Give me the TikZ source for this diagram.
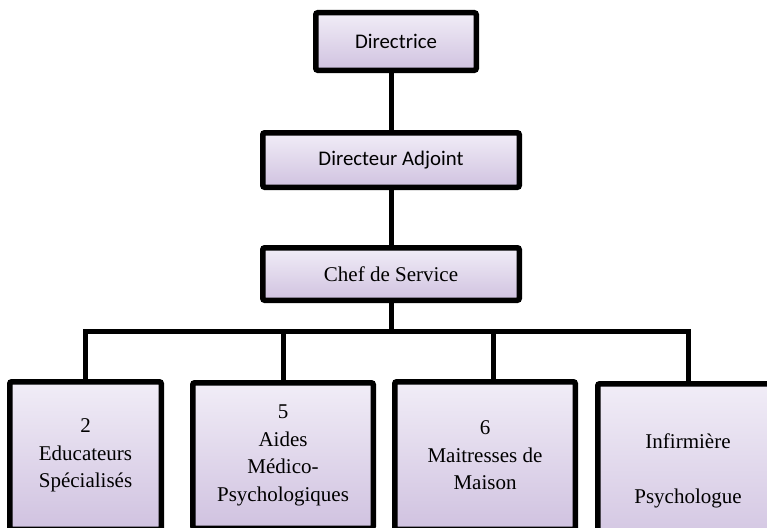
\documentclass[tikz,border=0pt]{standalone}
\usepackage{fontspec}
\setmainfont{Liberation Serif}
\newfontfamily\calfont{Carlito}
\usepackage{tikz}
\usetikzlibrary{positioning, shadows}

\definecolor{lilahaut}{HTML}{F1EDF7}
\definecolor{lilabas}{HTML}{D0C2E0}

\begin{document}
\begin{tikzpicture}[x=1pt, y=-1pt,
    box/.style={draw=black, line width=5.5pt, rounded corners=2pt,
        top color=lilahaut, bottom color=lilabas,
        drop shadow={shadow xshift=1.5pt, shadow yshift=-1.5pt, opacity=0.25},
        align=center, inner sep=2pt},
    haut/.style={box, font=\calfont\fontsize{20.8}{25}\selectfont},
    bas/.style={box, font=\fontsize{21}{27.5}\selectfont},
    lien/.style={line width=5pt}]
            \useasboundingbox (0,0) rectangle (767,527);
            % Direction
            \node[haut, minimum width=160.5pt, minimum height=57.5pt] (dir) at (396,41.5) {Directrice};
            \node[haut, minimum width=256.5pt, minimum height=54.5pt] (adj) at (391,160) {Directeur Adjoint};
            \node[bas, minimum width=256.5pt, minimum height=52.5pt] (chef) at (391,274) {Chef de Service};
            
            % Equipe
            \node[bas, minimum width=151.5pt, minimum height=147.5pt] (educ) at (85.5,455.5) {2\\Educateurs\\Spécialisés};
            \node[bas, minimum width=180.5pt, minimum height=145.5pt] (amp) at (283,455.5) {5\\Aides\\Médico-\\Psychologiques};
            \node[bas, minimum width=180.5pt, minimum height=147.5pt] (mait) at (485,455.5) {6\\Maitresses de\\Maison};
            \node[bas, minimum width=180.5pt, minimum height=173.5pt] (infi) at (688,470.5) {Infirmière\\\\Psychologue};
            
            % Liaisons
            \coordinate (barre) at (391,331.5);
            \draw[lien] (dir.south -| adj.north) -- (adj.north);
            \draw[lien] (adj.south) -- (chef.north);
            \draw[lien] (chef.south) -- (barre);
            \draw[lien] (barre) -| (educ.north);
            \draw[lien] (barre) -| (amp.north);
            \draw[lien] (barre) -| ([xshift=8pt]mait.north);
            \draw[lien] (barre) -| (infi.north);
        \end{tikzpicture}
\end{document}
